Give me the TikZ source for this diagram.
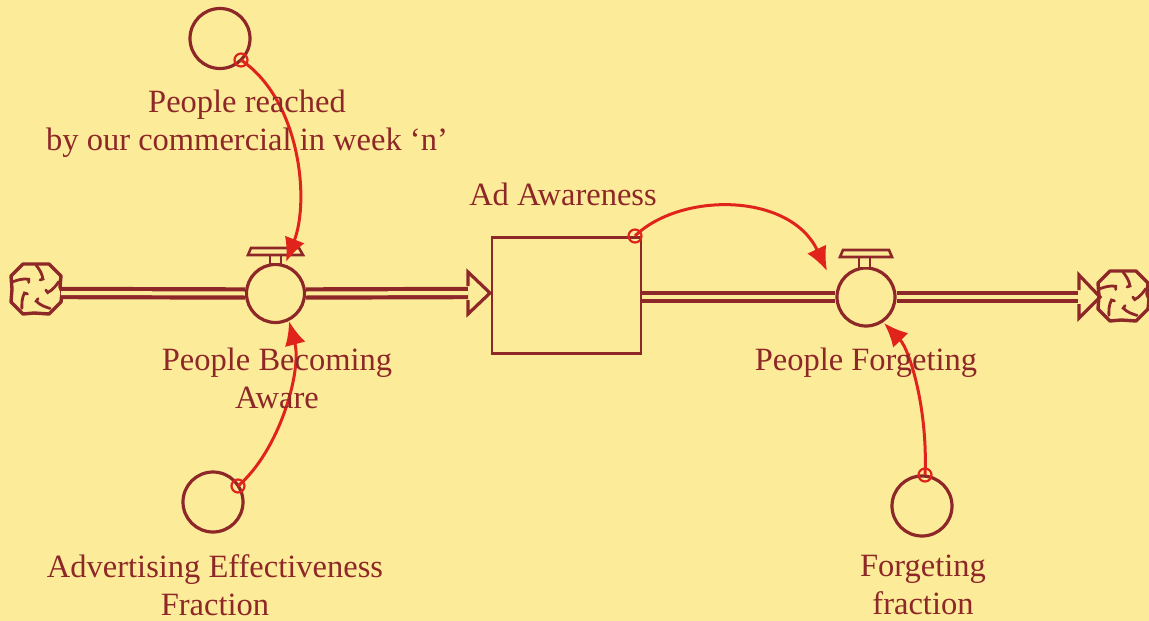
\documentclass[tikz,border=0pt]{standalone}
\usepackage{fontspec}
\setmainfont{Liberation Serif}
\usetikzlibrary{arrows.meta}
\definecolor{bg}{HTML}{FCEC9A}
\definecolor{dk}{HTML}{8E2727}
\definecolor{rd}{HTML}{E0241C}
\tikzset{
  pipe/.style={draw=dk, line width=4.2pt, double=bg, double distance=4pt},
  valvec/.style={circle, draw=dk, line width=3.2pt, fill=bg, minimum size=58pt, inner sep=0pt},
  auxc/.style={circle, draw=dk, line width=3.2pt, minimum size=60pt, inner sep=0pt},
  tapc/.style={circle, draw=rd, line width=2.2pt, minimum size=13pt, inner sep=0pt},
  conn/.style={draw=rd, line width=3pt, -{Latex[length=24pt,width=21pt]}},
  lbl/.style={text=dk, font=\fontsize{32.5}{38}\selectfont, align=center, inner sep=0pt},
  chev/.style={draw=dk, line width=3.2pt, line join=miter},
  stockbox/.style={draw=dk, line width=2.8pt, minimum width=149pt, minimum height=116pt, inner sep=0pt}
}
\newcommand{\mycloud}[1]{%
  \begin{scope}[shift={#1}]
    \draw[dk, line width=3.4pt, line join=round]
      (-13,-25) -- (13,-25) -- (25,-13) -- (24,-2) -- (26,3) -- (25,13) -- (13,25) -- (-2,24) -- (-13,25) -- (-25,13) -- (-24,0) -- (-25,-13) -- cycle;
    \foreach \a in {0,72,144,216,288}{
      \draw[dk, line width=2.8pt, line cap=round, rotate=\a]
        (0,-24) .. controls (3,-20) and (6,-16) .. (7,-10) -- (4,-9);
    }
  \end{scope}}
\begin{document}
\begin{tikzpicture}[x=1pt,y=-1pt]
\useasboundingbox[fill=bg] (0,0) rectangle (1149,621);

% clouds
\mycloud{(36,289)}
\mycloud{(1123,296)}
\coordinate (cl1) at (61,293);
\coordinate (cl2) at (1078,297);

% valves and stock
\node[valvec] (v1) at (275.5,293.5) {};
\node[valvec] (v2) at (866,297) {};
\node[stockbox, anchor=north west] (stock) at (490.5,236) {};

% pipes
\coordinate (a1) at (468,293);
\draw[pipe] (cl1) -- (v1.west);
\draw[pipe] (v1.east) -- (a1);
\draw[pipe] (stock.east |- v2.west) -- (v2.west);
\draw[pipe] (v2.east) -- (cl2);
% flow arrowheads
\draw[chev] (468,286) -- (468,272) -- (490,293) -- (468,314) -- (468,300);
\draw[chev] (1079,290) -- (1079,275) -- (1100,297) -- (1079,318) -- (1079,304);

% valve tops
\draw[dk, line width=2.6pt, fill=bg] (270,264) rectangle (281,255);
\draw[dk, line width=2.6pt, fill=bg] (251,248) -- (299,248) -- (303,255) -- (248,255) -- cycle;
\draw[dk, line width=2.6pt, fill=bg] (859,268) rectangle (870,257);
\draw[dk, line width=2.6pt, fill=bg] (843,250) -- (889,250) -- (892,257) -- (840,257) -- cycle;

% auxiliaries
\node[auxc] (aux1) at (220,38.5) {};
\node[auxc] (aux2) at (213,502) {};
\node[auxc] (aux3) at (922,506) {};

% tap circles
\node[tapc] (t1) at (241,60) {};
\node[tapc] (t2) at (238,486) {};
\node[tapc] (t3) at (635,236) {};
\node[tapc] (t4) at (925,475) {};

% connectors
\coordinate (e1) at (286,262);
\coordinate (e2) at (289,321);
\coordinate (e3) at (827,271);
\coordinate (e4) at (884,323);
\draw[conn] (t1.center) .. controls (300,100) and (310,200) .. (e1);
\draw[conn] (t2.center) .. controls (280,450) and (302,370) .. (e2);
\draw[conn] (t3.center) .. controls (680,192) and (790,192) .. (e3);
\draw[conn] (t4.center) .. controls (928,410) and (910,350) .. (e4);

% labels
\node[lbl] (l1) at (247,124) {People reached\\by our commercial in week ‘n’};
\node[lbl] (l2) at (277,378) {People Becoming\\Aware};
\node[lbl] (l3) at (563,194) {Ad Awareness};
\node[lbl] (l4) at (866,363) {People Forgeting};
\node[lbl] (l5) at (215,585) {Advertising Effectiveness\\Fraction};
\node[lbl] (l6) at (923,585) {Forgeting\\fraction};
\end{tikzpicture}
\end{document}
